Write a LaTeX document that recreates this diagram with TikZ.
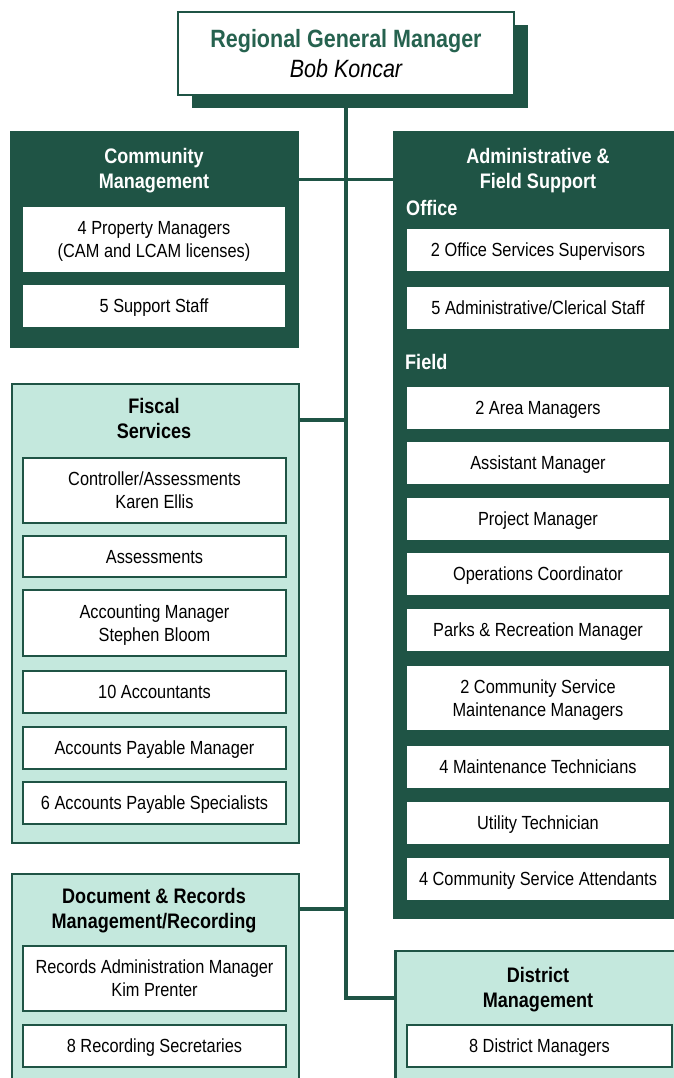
\documentclass[tikz,border=0pt]{standalone}
\usepackage{fontspec}
\setmainfont{Liberation Sans}[FakeStretch=0.86]
\usetikzlibrary{shadows}

\definecolor{dkgreen}{RGB}{31,84,69}
\definecolor{namegreen}{RGB}{38,98,79}
\definecolor{mint}{RGB}{196,232,221}

\tikzset{
  every node/.style={inner sep=0pt},
  topbox/.style={draw=dkgreen, line width=2pt, fill=white, align=center,
    minimum width=336pt, minimum height=83pt,
    font=\fontsize{25}{30}\selectfont,
    drop shadow={shadow xshift=14pt, shadow yshift=-13pt, fill=dkgreen, opacity=1}},
  dept/.style={fill=dkgreen, anchor=north west},
  deptlight/.style={draw=dkgreen, line width=2.5pt, fill=mint, anchor=north west},
  head/.style={font=\fontsize{21}{25}\selectfont\bfseries, align=center},
  job/.style={fill=white, align=center, minimum width=262pt, minimum height=42pt,
    text depth=0pt, font=\fontsize{19}{23}\selectfont},
  joblight/.style={job, draw=dkgreen, line width=2pt, minimum width=263pt},
  link/.style={draw=dkgreen, line width=3.5pt},
}

\begin{document}
\begin{tikzpicture}[x=1pt,y=-1pt]
  \useasboundingbox (0,0) rectangle (674,1078);

  % head of the region
  \node[topbox] (boss) at (346,53.5)
    {{\color{namegreen}\bfseries Regional General Manager}\\\itshape Bob Koncar};

  % department frames
  \node[dept, minimum width=289pt, minimum height=217pt] (comm) at (10,131) {};
  \node[dept, minimum width=300pt, minimum height=788pt] (admin) at (393,131) {};
  \node[deptlight, minimum width=287pt, minimum height=459pt] (fisc) at (10.5,382.5) {};
  \node[deptlight, minimum width=287pt, minimum height=230pt] (docs) at (10.5,872.5) {};
  \node[deptlight, minimum width=300pt, minimum height=150pt] (dist) at (394,949.5) {};

  % department titles
  \node[head, text=white, anchor=north] (comm-t) at (154,148) {Community\\Management};
  \node[head, text=white, anchor=north] (admin-t) at (538,148) {Administrative \&\\Field Support};
  \node[head, anchor=north] (fisc-t) at (154,398) {Fiscal\\Services};
  \node[head, anchor=north] (docs-t) at (154,888) {Document \& Records\\Management/Recording};
  \node[head, anchor=north] (dist-t) at (538,967) {District\\Management};

  % Community Management
  \node[job, minimum height=65pt] (cm1) at (154,239.5) {4 Property Managers\\(CAM and LCAM licenses)};
  \node[job] (cm2) at (154,306) {5 Support Staff};

  % Administrative & Field Support
  \node[head, text=white, anchor=base west] (office) at (406,215) {Office};
  \node[job] (of1) at (538,250) {2 Office Services Supervisors};
  \node[job] (of2) at (538,307.5) {5 Administrative/Clerical Staff};
  \node[head, text=white, anchor=base west] (field) at (405,369) {Field};
  \node[job] (fd1) at (538,408) {2 Area Managers};
  \node[job] (fd2) at (538,463) {Assistant Manager};
  \node[job] (fd3) at (538,518.5) {Project Manager};
  \node[job] (fd4) at (538,574) {Operations Coordinator};
  \node[job] (fd5) at (538,630) {Parks \& Recreation Manager};
  \node[job, minimum height=64pt] (fd6) at (538,698) {2 Community Service\\Maintenance Managers};
  \node[job] (fd7) at (538,766.5) {4 Maintenance Technicians};
  \node[job] (fd8) at (538,822.5) {Utility Technician};
  \node[job] (fd9) at (538,879) {4 Community Service Attendants};

  % Fiscal Services
  \node[joblight, minimum height=65pt] (fs1) at (154.5,490.5) {Controller/Assessments\\Karen Ellis};
  \node[joblight, minimum height=41pt] (fs2) at (154.5,556.5) {Assessments};
  \node[joblight, minimum height=66pt] (fs3) at (154.5,623) {Accounting Manager\\Stephen Bloom};
  \node[joblight] (fs4) at (154.5,691.5) {10 Accountants};
  \node[joblight] (fs5) at (154.5,747.5) {Accounts Payable Manager};
  \node[joblight] (fs6) at (154.5,802.5) {6 Accounts Payable Specialists};

  % Document & Records
  \node[joblight, minimum height=65pt] (dr1) at (154.5,978.5) {Records Administration Manager\\Kim Prenter};
  \node[joblight] (dr2) at (154.5,1046) {8 Recording Secretaries};

  % District Management
  \node[joblight, minimum width=265pt] (ds1) at (539.5,1045.5) {8 District Managers};

  % reporting lines
  \coordinate (bend) at (346,998);
  \draw[link] (boss.south) -- (bend) -- (dist.west |- bend);
  \draw[link] (comm.east |- 0,179.5) -- (admin.west |- 0,179.5);
  \draw[link] (fisc.east |- 0,420) -- (boss.south |- 0,420);
  \draw[link] (docs.east |- 0,909) -- (boss.south |- 0,909);
\end{tikzpicture}
\end{document}
